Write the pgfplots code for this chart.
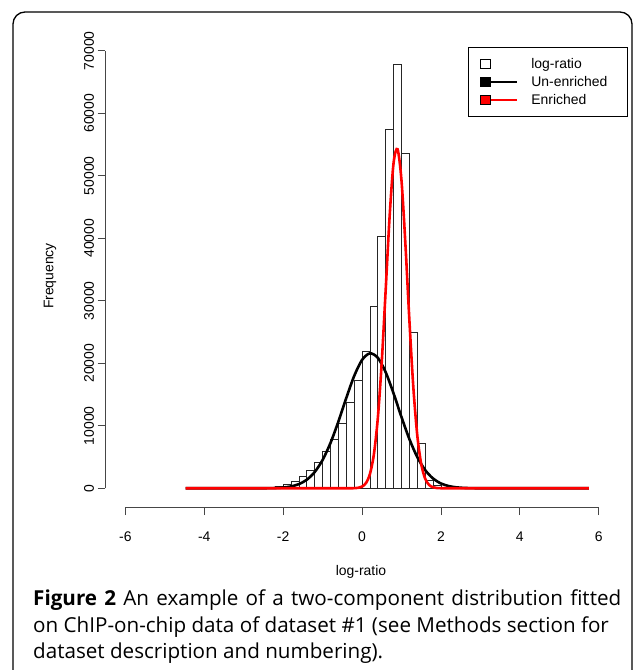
\documentclass[border=0pt]{standalone}
\usepackage{pgfplots}
\pgfplotsset{compat=1.18}
\usepackage{fontspec}
\setmainfont{Liberation Sans}
\newfontfamily\capfont{Open Sans}

\definecolor{axgray}{RGB}{70,70,70}

\begin{document}
\begin{tikzpicture}[x=1bp,y=1bp]
\useasboundingbox (0,0) rectangle (637,670);
% outer frame
\draw[line width=1.3bp, rounded corners=12bp] (13,-40) rectangle (632,658);

\begin{axis}[
  at={(105bp,162.3bp)}, anchor=south west,
  scale only axis, width=509.5bp, height=469.4bp,
  xmin=-6.515, xmax=6.4, ymin=-3104, ymax=72000,
  axis x line*=bottom, axis y line*=left,
  axis line style={draw=none},
  clip=false,
  xtick={-6,-4,-2,0,2,4,6}, xticklabels={-6,-4,-2,0,2,4,6},
  ytick={0,10000,20000,30000,40000,50000,60000,70000},
  yticklabels={0,10000,20000,30000,40000,50000,60000,70000},
  scaled y ticks=false,
  tick align=outside, major tick length=7.5bp,
  tick style={axgray, line width=0.8bp},
  tick label style={font=\fontsize{14}{16}\selectfont},
  xticklabel shift=13bp,
  yticklabel style={rotate=90, anchor=south},
  legend cell align=left,
  legend style={at={(0.7125,0.9815)}, anchor=north west, draw=black,
    line width=0.8bp, font=\fontsize{14}{16}\selectfont,
    inner xsep=12bp, inner ysep=9bp, row sep=3bp, column sep=12bp,
    nodes={inner sep=2bp, text height=10bp, text depth=1bp}},
]
% histogram of log-ratio (bin width 0.2)
\addplot[ybar interval, draw=black!85, fill=white, line width=0.7bp,
  legend image code/.code={
    \draw[black, line width=0.6bp, fill=white] (0bp,-4.5bp) rectangle (10bp,4.5bp);
    \path (36bp,0bp);}]
coordinates {
(-2.6,60) (-2.4,150) (-2.2,250) (-2.0,590) (-1.8,1170) (-1.6,1940)
(-1.4,2850) (-1.2,4230) (-1.0,5840) (-0.8,7840) (-0.6,10400) (-0.4,13700)
(-0.2,17300) (0.0,21900) (0.2,29050) (0.4,40250) (0.6,57350) (0.8,67900)
(1.0,53600) (1.2,24900) (1.4,7150) (1.6,1300) (1.8,400) (2.0,150)
(2.2,60) (2.4,30) (2.6,10) (2.8,10)
};
\addlegendentry{log-ratio}

% un-enriched component
\addplot[smooth, black, line width=2.6bp,
  legend image code/.code={
    \draw[black, line width=1.3bp] (5bp,0bp) -- (36bp,0bp);
    \draw[black, line width=0.6bp, fill=black] (0bp,-4.5bp) rectangle (10bp,4.5bp);}]
coordinates {
(-4.47,0) (-4.0,0) (-3.5,0) (-3.0,0) (-2.8,1) (-2.6,5) (-2.4,16) (-2.2,46)
(-2.0,122) (-1.8,298) (-1.6,665) (-1.4,1371) (-1.2,2598) (-1.0,4525)
(-0.8,7243) (-0.6,10660) (-0.4,14428) (-0.2,17948) (0.0,20531) (0.2,21591)
(0.4,20877) (0.6,18561) (0.8,15172) (1.0,11401) (1.2,7877) (1.4,5005)
(1.6,2923) (1.8,1570) (2.0,775) (2.2,352) (2.4,147) (2.6,56) (2.8,20)
(3.0,6) (3.2,2) (3.4,0) (3.6,0) (4.0,0) (4.5,0) (5.0,0) (5.5,0) (5.75,0)
};
\addlegendentry{Un-enriched\hspace*{6bp}}

% enriched component
\addplot[smooth, red, line width=2.6bp,
  legend image code/.code={
    \draw[red, line width=1.3bp] (5bp,0bp) -- (36bp,0bp);
    \draw[black, line width=0.6bp, fill=red] (0bp,-4.5bp) rectangle (10bp,4.5bp);}]
coordinates {
(-4.47,0) (-4.0,0) (-3.5,0) (-3.0,0) (-2.5,0) (-2.0,0) (-1.5,0) (-1.0,0)
(-0.6,0) (-0.5,0) (-0.4,0) (-0.3,4) (-0.2,18) (-0.1,75) (0.0,269)
(0.1,838) (0.2,2283) (0.3,5414) (0.4,11200) (0.5,20204) (0.6,31774)
(0.7,43558) (0.8,52060) (0.9,54251) (1.0,49284) (1.1,39032) (1.2,26950)
(1.3,16222) (1.4,8514) (1.5,3895) (1.6,1554) (1.7,540) (1.8,164)
(1.9,43) (2.0,10) (2.1,2) (2.2,0) (2.3,0) (2.5,0) (3.0,0) (3.5,0)
(4.0,0) (4.5,0) (5.0,0) (5.5,0) (5.75,0)
};
\addlegendentry{Enriched}

% detached R-style axis lines
\draw[axgray, line width=0.8bp] (axis cs:-6,-3104) -- (axis cs:6,-3104);
\draw[axgray, line width=0.8bp] (axis cs:-6.515,0) -- (axis cs:-6.515,70000);
\end{axis}

\node[font=\fontsize{14}{16}\selectfont] at (361,98) {log-ratio};
\node[font=\fontsize{14}{16}\selectfont, rotate=90] at (50,394) {Frequency};

% caption
\begin{scope}[every node/.style={anchor=base west, inner sep=0pt,
    font=\capfont\fontsize{20.7}{25}\selectfont}]
\node at (33,64) {\makebox[588bp][s]{\textbf{Figure 2} An example of a two-component distribution fitted}};
\node at (33,37) {on ChIP-on-chip data of dataset \#1 (see Methods section for};
\node at (33,11) {dataset description and numbering).};
\end{scope}
\end{tikzpicture}
\end{document}
